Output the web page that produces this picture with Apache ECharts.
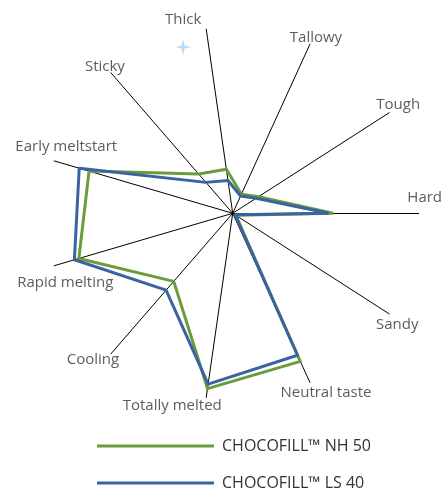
<!DOCTYPE html>
<html>
<head>
<meta charset="utf-8">
<script src="https://cdn.jsdelivr.net/npm/echarts@6/dist/echarts.min.js"></script>
<style>
html,body{margin:0;padding:0;background:#fff;}
#chart{width:444px;height:491px;}
</style>
</head>
<body>
<div id="chart"></div>
<script>
// Axis categories (counter-clockwise from the right)
const categories = ['Hard','Tough','Tallowy','Thick','Sticky','Early meltstart','Rapid melting','Cooling','Totally melted','Neutral taste','Sandy'];
const seriesNames = ['CHOCOFILL\u2122 NH 50','CHOCOFILL\u2122 LS 40'];
const nh50 = [5.39, 1.65, 1.13, 2.39, 2.80, 8.05, 8.62, 4.84, 9.52, 8.75, 0.2];
const ls40 = [5.16, 1.50, 1.02, 1.78, 2.20, 8.60, 8.87, 5.47, 9.28, 8.39, 0.15];
const axisMax = 10;

// label nudges (styling only)
const labelOffsets = [[6,-16],[9,-8],[6,-6],[-23,-9],[-6,-6],[12,-14],[11,17],[-18,6],[-34,8],[16,10],[8,11]];

const FONT = 'Open Sans';
const center = [232.7, 213.3];
const radius = 186;
const colors = ['#6a9b3c', '#3a63a2'];

const chart = echarts.init(document.getElementById('chart'), null, {renderer:'canvas'});
chart.setOption({
  animation: false,
  backgroundColor: '#ffffff',
  textStyle: {fontFamily: FONT},
  legend: {
    data: seriesNames,
    orient: 'vertical',
    left: 97,
    top: 436,
    width: 340,
    height: 150,
    padding: 0,
    itemWidth: 117,
    itemHeight: 3,
    itemGap: 17,
    icon: 'rect',
    textStyle: {fontFamily: FONT, fontSize: 16, color: '#333', lineHeight: 20, padding: [0, 0, 0, 3]},
    selectedMode: false
  },
  radar: {
    center: center,
    radius: radius,
    startAngle: 0,
    shape: 'circle',
    splitNumber: 1,
    indicator: categories.map(n => ({name: n, min: 0, max: axisMax})),
    axisName: {show: false},
    axisLine: {lineStyle: {color: '#000', width: 1}},
    splitLine: {show: false},
    splitArea: {show: false},
    axisTick: {show: false},
    axisLabel: {show: false}
  },
  polar: {center: center, radius: radius},
  angleAxis: {type: 'value', min: 0, max: 360, startAngle: 0, clockwise: false, show: false},
  radiusAxis: {type: 'value', min: 0, max: axisMax, show: false},
  graphic: [{
    type: 'polygon',
    x: 183, y: 47,
    shape: {points: [[0,-8],[1.6,-1.6],[8,0],[1.6,1.6],[0,8],[-1.6,1.6],[-8,0],[-1.6,-1.6]]},
    style: {fill: '#b9ddf6'},
    silent: true
  }],
  series: [
    {
      name: seriesNames[0],
      type: 'radar',
      symbol: 'none',
      itemStyle: {color: colors[0]},
      lineStyle: {color: colors[0], width: 3},
      z: 2,
      data: [{name: seriesNames[0], value: nh50}]
    },
    {
      name: seriesNames[1],
      type: 'radar',
      symbol: 'none',
      itemStyle: {color: colors[1]},
      lineStyle: {color: colors[1], width: 3},
      z: 3,
      data: [{name: seriesNames[1], value: ls40}]
    },
    {
      name: 'axisNames',
      type: 'scatter',
      coordinateSystem: 'polar',
      symbolSize: 0,
      silent: true,
      label: {
        show: true,
        position: 'inside',
        align: 'center',
        verticalAlign: 'middle',
        fontFamily: FONT,
        fontSize: 15,
        color: '#333',
        formatter: p => p.name
      },
      data: categories.map((n, i) => ({
        name: n,
        value: [axisMax, i * 360 / categories.length],
        label: {offset: labelOffsets[i]}
      }))
    }
  ]
});
</script>
</body>
</html>
